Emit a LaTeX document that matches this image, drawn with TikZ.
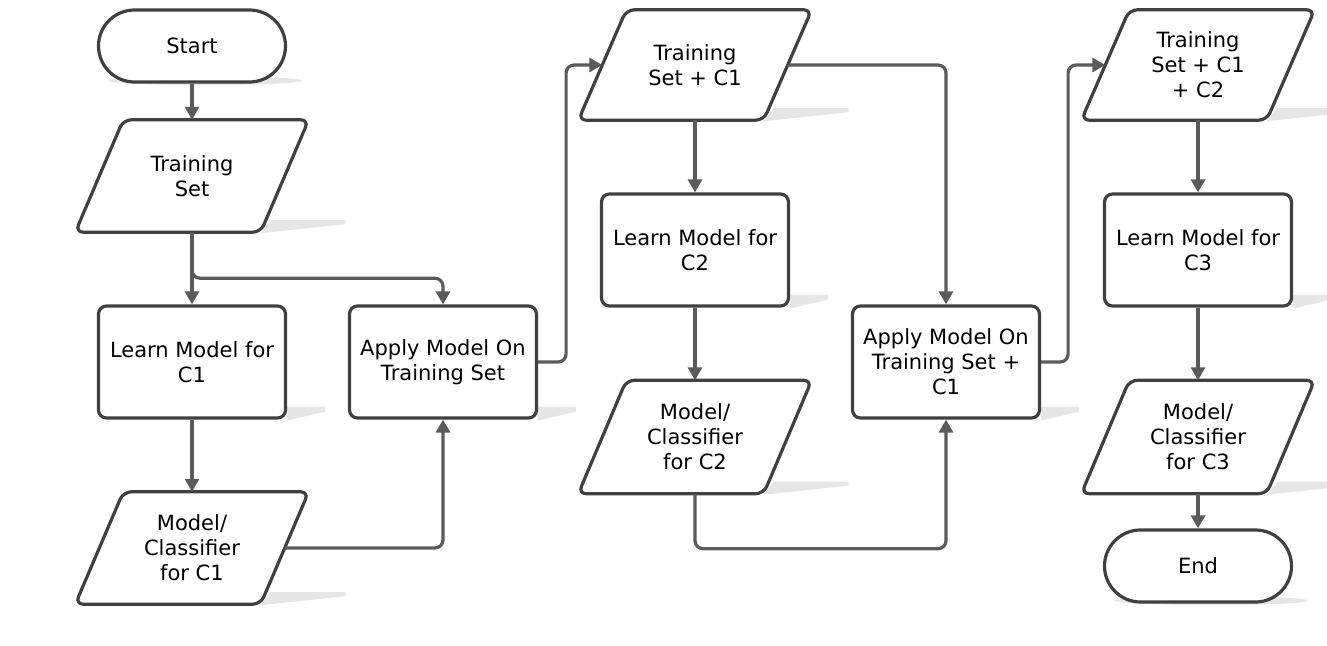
\documentclass[tikz,border=0pt]{standalone}
\usepackage{fontspec}
\setmainfont{DejaVu Sans}
\usetikzlibrary{arrows.meta,calc}
\definecolor{shapeclr}{HTML}{404040}
\definecolor{lineclr}{HTML}{5B5B5B}
\definecolor{shadclr}{HTML}{E6E6E6}
\pgfdeclarelayer{shadowlayer}
\pgfdeclarelayer{bglayer}
\pgfsetlayers{shadowlayer,bglayer,main}
\newcommand\mypara[1]{%
  \begin{pgfonlayer}{bglayer}
    \draw[shapeline, fill=white, rounded corners=8pt]
      ($(#1.north west)+(24,0)$) -- ($(#1.north east)+(24,0)$) --
      ($(#1.south east)+(-24,0)$) -- ($(#1.south west)+(-24,0)$) -- cycle;
  \end{pgfonlayer}
  \begin{pgfonlayer}{shadowlayer}
    \fill[shadclr] ($(#1.south east)+(-24,1)$) -- ($(#1.south east)+(-14,-12)$) --
      ($(#1.south east)+(61,-12)$) -- ($(#1.south east)+(61,-8)$) -- cycle;
  \end{pgfonlayer}}
\newcommand\myprocshadow[1]{%
  \begin{pgfonlayer}{shadowlayer}
    \fill[shadclr] ($(#1.south east)+(0,1)$) -- ($(#1.south east)+(0,-13)$) --
      ($(#1.south east)+(38,-13)$) -- ($(#1.south east)+(38,-8)$) -- cycle;
  \end{pgfonlayer}}
\newcommand\mytermshadow[1]{%
  \begin{pgfonlayer}{shadowlayer}
    \fill[shadclr] ($(#1.south)+(13,-3)$) ellipse [x radius=97pt, y radius=4.5pt];
  \end{pgfonlayer}}
\tikzset{
  shapeline/.style={draw=shapeclr, line width=3.2pt},
  txt/.style={font=\fontsize{21}{25}\selectfont, align=center, inner sep=0pt, text=black},
  term/.style={txt, shapeline, fill=white, rounded corners=36pt, minimum width=187pt, minimum height=72pt},
  proc/.style={txt, shapeline, fill=white, rounded corners=8pt, minimum width=187pt, minimum height=112pt},
  io/.style={txt, minimum width=185pt, minimum height=112pt},
  conn/.style={draw=lineclr, line width=3.2pt, -{Triangle[width=14pt,length=13pt]}, rounded corners=8pt},
}
\begin{document}
\begin{tikzpicture}[x=1pt,y=-1pt]
\useasboundingbox (0,0) rectangle (1327,645);
\node[term] (start) at (192,46) {Start};
\node[io] (ts) at (192,176) {Training\\Set};
\node[proc] (l1) at (192,362) {Learn Model for\\C1};
\node[proc] (ap1) at (443,362) {Apply Model On\\Training Set};
\node[io] (m1) at (192,548) {Model/\\Classifier\\for C1};
\node[io, minimum height=110pt] (ts1) at (695,65) {Training\\Set + C1};
\node[proc] (l2) at (695,250) {Learn Model for\\C2};
\node[io, minimum height=113pt] (m2) at (695,437) {Model/\\Classifier\\for C2};
\node[proc] (ap2) at (946,362) {Apply Model On\\Training Set +\\C1};
\node[io, minimum height=110pt] (ts2) at (1198,65) {Training\\Set + C1\\+ C2};
\node[proc] (l3) at (1198,250) {Learn Model for\\C3};
\node[io, minimum height=113pt] (m3) at (1198,437) {Model/\\Classifier\\for C3};
\node[term] (endn) at (1198,566) {End};

\mypara{ts}\mypara{m1}\mypara{ts1}\mypara{m2}\mypara{ts2}\mypara{m3}
\myprocshadow{l1}\myprocshadow{ap1}\myprocshadow{l2}\myprocshadow{ap2}\myprocshadow{l3}
\mytermshadow{start}\mytermshadow{endn}

\draw[conn] (start) -- (ts);
\draw[conn] (ts) -- (l1);
\draw[conn] (ts.south) -- ++(0,46) -| (ap1.north);
\draw[conn] (l1) -- (m1);
\draw[conn] (m1.east) -| (ap1.south);
\draw[conn] (ap1.east) -- ++(28,0) |- (ts1.west);
\draw[conn] (ts1) -- (l2);
\draw[conn] (l2) -- (m2);
\draw[conn] (m2.south) -- ++(0,55) -| (ap2.south);
\draw[conn] (ts1.east) -| (ap2.north);
\draw[conn] (ap2.east) -- ++(27,0) |- (ts2.west);
\draw[conn] (ts2) -- (l3);
\draw[conn] (l3) -- (m3);
\draw[conn] (m3) -- (endn);
\end{tikzpicture}
\end{document}
